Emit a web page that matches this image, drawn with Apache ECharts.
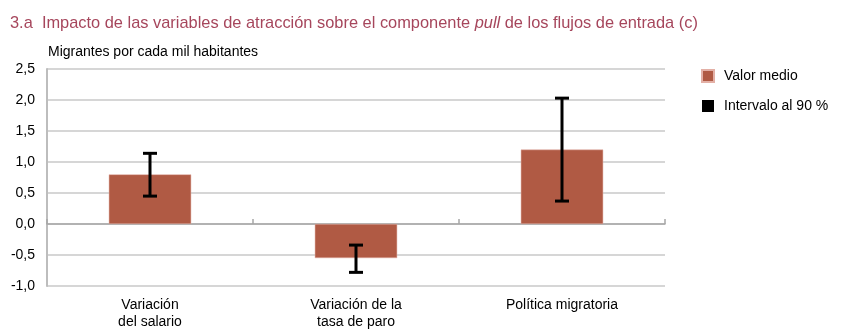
<!DOCTYPE html>
<html><head><meta charset="utf-8">
<script src="https://cdn.jsdelivr.net/npm/echarts@6/dist/echarts.min.js"></script>
<style>html,body{margin:0;padding:0;background:#fff}#c{width:844px;height:336px}</style>
</head><body><div id="c"></div>
<script>
var categories = ['Variación\ndel salario', 'Variación de la\ntasa de paro', 'Política migratoria'];
var meanValues = [0.80, -0.55, 1.20];
var lowerValues = [0.45, -0.78, 0.37];
var upperValues = [1.14, -0.34, 2.03];
var yTicks = { min: -1.0, max: 2.5, interval: 0.5 };

var errData = categories.map(function (c, i) { return [i, lowerValues[i], upperValues[i]]; });
var font = '"Liberation Sans", Arial, sans-serif';
var chart = echarts.init(document.getElementById('c'));
chart.setOption({
  animation: false,
  title: {
    text: '3.a  Impacto de las variables de atracción sobre el componente {i|pull} de los flujos de entrada (c)',
    left: 5, top: 10,
    textStyle: { color: '#a6465c', fontSize: 16.4, fontWeight: 'normal', fontFamily: font,
      rich: { i: { fontStyle: 'italic', color: '#a6465c', fontSize: 16.4, fontFamily: font } } }
  },
  legend: {
    orient: 'vertical', left: 696, top: 64, itemWidth: 12, itemHeight: 12, itemGap: 16,
    textStyle: { fontSize: 14, color: '#000', fontFamily: font, padding: [0, 0, 0, 5] },
    data: [{ name: 'Valor medio', icon: 'rect' }, { name: 'Intervalo al 90 %', icon: 'rect' }]
  },
  grid: { left: 47, right: 179, top: 69, bottom: 50 },
  xAxis: [{
    type: 'category', data: categories, position: 'bottom',
    axisLine: { show: false, onZero: false }, axisTick: { show: false },
    axisLabel: { margin: 11, fontSize: 14, color: '#000', fontFamily: font, lineHeight: 17 }
  }, {
    type: 'category', data: categories, position: 'top',
    axisLine: { show: true, onZero: true, lineStyle: { color: '#a6a6a6', width: 1.5 } },
    axisTick: { show: true, length: 5, inside: false, lineStyle: { color: '#a6a6a6', width: 1.5 } },
    axisLabel: { show: false }
  }],
  yAxis: {
    type: 'value', min: yTicks.min, max: yTicks.max, interval: yTicks.interval,
    name: 'Migrantes por cada mil habitantes', nameLocation: 'end', nameGap: 10,
    nameTextStyle: { align: 'left', fontSize: 14, color: '#000', fontFamily: font, padding: [0, 0, 0, 1] },
    axisLine: { show: true, lineStyle: { color: '#bdbdbd', width: 2 } },
    axisTick: { show: false },
    splitLine: { lineStyle: { color: '#d6d6d6', width: 2 } },
    axisLabel: { margin: 12, fontSize: 14, color: '#000', fontFamily: font,
      formatter: function (v) { return v.toFixed(1).replace('.', ','); } }
  },
  series: [{
    name: 'Valor medio', type: 'bar', data: meanValues, barWidth: '40%', xAxisIndex: 0,
    itemStyle: { color: '#b05a44', borderColor: '#e3b0a6', borderWidth: 0.5 }
  }, {
    name: 'Intervalo al 90 %', type: 'custom', data: errData, xAxisIndex: 0, z: 5,
    itemStyle: { color: '#000' },
    encode: { x: 0, y: [1, 2] },
    renderItem: function (params, api) {
      var x = api.value(0);
      var lo = api.coord([x, api.value(1)]);
      var hi = api.coord([x, api.value(2)]);
      var hw = 7;
      var st = { stroke: '#000', lineWidth: 3 };
      return { type: 'group', children: [
        { type: 'line', shape: { x1: lo[0], y1: lo[1], x2: hi[0], y2: hi[1] }, style: st },
        { type: 'line', shape: { x1: lo[0] - hw, y1: lo[1], x2: lo[0] + hw, y2: lo[1] }, style: st },
        { type: 'line', shape: { x1: hi[0] - hw, y1: hi[1], x2: hi[0] + hw, y2: hi[1] }, style: st }
      ] };
    }
  }]
});
</script></body></html>
